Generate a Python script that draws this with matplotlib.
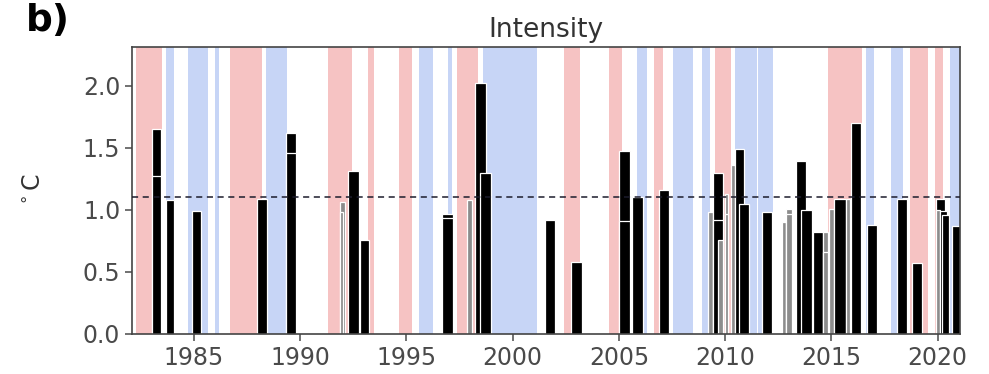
import matplotlib
matplotlib.use("Agg")
import matplotlib.pyplot as plt
from matplotlib.ticker import FormatStrFormatter

# ENSO phases (decimal years)
red_start = [1982.27, 1986.69, 1991.31, 1993.19, 1994.65, 1997.38, 2002.41, 2004.53,
             2006.65, 2009.52, 2014.84, 2018.69, 2019.87]
red_end = [1983.49, 1988.20, 1992.44, 1993.47, 1995.26, 1998.36, 2003.16, 2005.14,
           2007.07, 2010.27, 2016.44, 2019.54, 2020.25]
blue_start = [1983.67, 1984.72, 1985.99, 1988.37, 1995.59, 1996.95, 1998.60, 2005.85,
              2007.54, 2008.90, 2010.46, 2011.54, 2016.62, 2017.80, 2020.58]
blue_end = [1984.07, 1985.66, 1986.18, 1989.36, 1996.25, 1997.14, 2001.14, 2006.32,
            2008.48, 2009.28, 2011.49, 2012.25, 2017.00, 2018.36, 2021.30]

# heatwave events: start, end, max intensity (degC)
ev_start = [1983.01, 1983.01, 1983.67, 1984.89, 1987.96, 1989.33, 1989.33, 1991.87,
            1991.87, 1992.23, 1992.81, 1996.66, 1996.66, 1997.86, 1998.22, 1998.46,
            2001.52, 2002.73, 2005.00, 2005.00, 2005.63, 2006.90, 2009.20, 2009.44,
            2009.44, 2009.66, 2009.99, 2009.99, 2010.26, 2010.46, 2010.66, 2011.73,
            2012.67, 2012.89, 2012.89, 2013.33, 2013.56, 2014.13, 2014.62, 2014.62,
            2014.88, 2015.12, 2015.67, 2015.95, 2016.66, 2018.07, 2018.81, 2019.95,
            2019.95, 2020.11, 2020.23, 2020.67]
ev_end = [1983.43, 1983.43, 1984.07, 1985.32, 1988.42, 1989.80, 1989.80, 1992.11,
          1992.03, 1992.76, 1993.25, 1997.17, 1997.17, 1998.07, 1998.74, 1998.96,
          2001.99, 2003.24, 2005.52, 2005.52, 2006.12, 2007.37, 2009.41, 2009.91,
          2009.91, 2009.91, 2010.14, 2010.14, 2010.46, 2010.90, 2011.12, 2012.19,
          2012.89, 2013.16, 2013.16, 2013.79, 2014.07, 2014.59, 2014.86, 2014.86,
          2015.12, 2015.67, 2015.87, 2016.42, 2017.17, 2018.55, 2019.29, 2020.34,
          2020.11, 2020.44, 2020.54, 2021.20]
ev_int = [1.65, 1.27, 1.08, 0.99, 1.09, 1.62, 1.46, 1.06,
          0.98, 1.31, 0.76, 0.97, 0.93, 1.08, 2.02, 1.30,
          0.92, 0.58, 1.47, 0.91, 1.10, 1.16, 0.98, 1.30,
          0.92, 0.76, 1.13, 0.97, 1.36, 1.49, 1.05, 0.98,
          0.90, 1.01, 0.97, 1.39, 1.00, 0.82, 0.82, 0.66,
          1.01, 1.09, 1.09, 1.70, 0.88, 1.09, 0.57, 1.09,
          1.00, 0.99, 0.96, 0.87]

threshold = 1.1
year_ticks = [1985, 1990, 1995, 2000, 2005, 2010, 2015, 2020]

fig = plt.figure(figsize=(9.89, 3.74), dpi=100)
ax = fig.add_axes([0.1335, 0.107, 0.837, 0.767])

for s, e in zip(red_start, red_end):
    ax.axvspan(s, e, color="#f6c3c3", lw=0, zorder=0)
for s, e in zip(blue_start, blue_end):
    ax.axvspan(s, e, color="#c7d5f6", lw=0, zorder=0)

for s, e, v in zip(ev_start, ev_end, ev_int):
    w = e - s
    col = "#8c8c8c" if w < 0.3 else "black"
    ax.bar(s, v, width=w, align="edge", color=col, edgecolor="white", linewidth=0.9, zorder=2)

ax.axhline(threshold, color="#1c1c2c", ls=(0, (4, 3)), lw=1.1, zorder=3)

ax.set_xlim(1982.08, 2021.05)
ax.set_ylim(0, 2.31)
ax.set_xticks(year_ticks)
ax.set_yticks([0, 0.5, 1.0, 1.5, 2.0])
ax.yaxis.set_major_formatter(FormatStrFormatter("%.1f"))
ax.tick_params(labelsize=17, colors="#4a4a4a", length=5, width=1.1)
for sp in ax.spines.values():
    sp.set_color("#444444")
    sp.set_linewidth(1.2)

ax.set_title("Intensity", fontsize=19, color="#333333", pad=7)
ax.set_ylabel("$^\\circ$C", fontsize=17, color="#333333")
ax.yaxis.set_label_coords(-0.104, 0.5)
fig.text(0.026, 0.992, "b)", fontsize=27, fontweight="bold", va="top", ha="left")

fig.savefig("out.png", dpi=100)
